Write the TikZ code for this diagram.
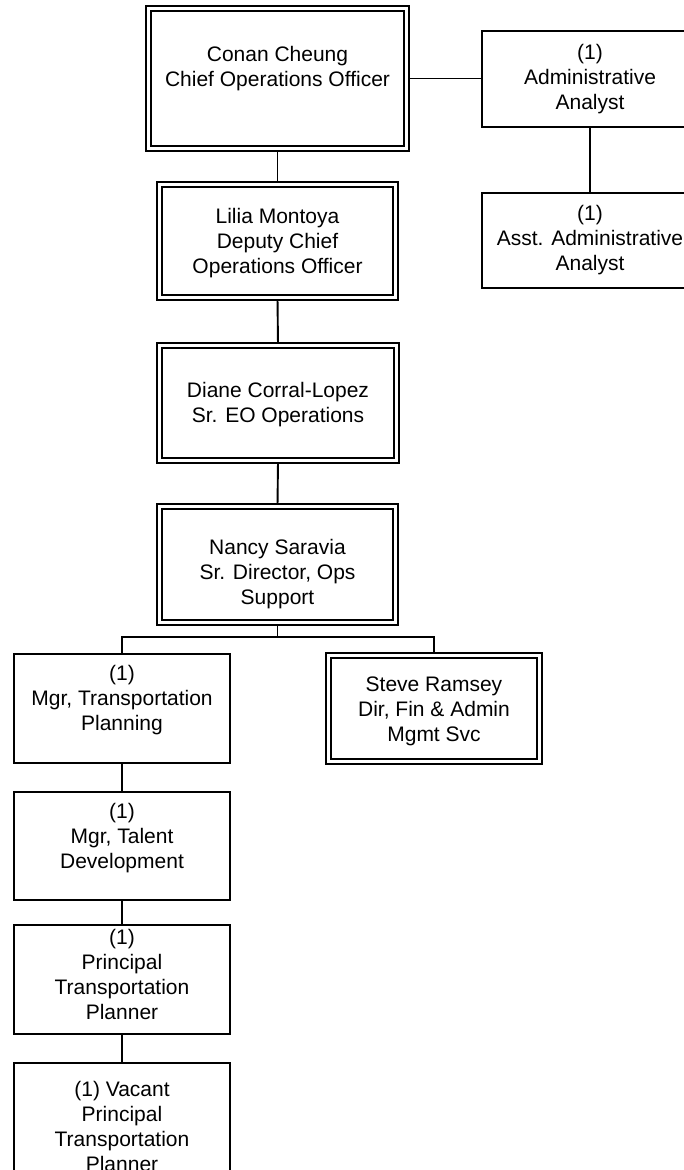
\documentclass[tikz,border=0pt]{standalone}
\usepackage{fontspec}
\setmainfont{Liberation Sans}
\usetikzlibrary{backgrounds}
\tikzset{
  sbox/.style={draw, line width=1.9pt, fill=white, inner sep=0pt, outer sep=0pt, minimum width=216pt},
  dbox/.style={draw, line width=1.9pt, double=white, double distance=2.8pt, fill=white, inner sep=0pt, outer sep=0pt},
  txt/.style={font=\fontsize{21}{25}\selectfont, align=center, inner sep=0pt, text=black},
  conn/.style={line width=1.9pt, black}
}
\begin{document}
\begin{tikzpicture}[x=1pt,y=-1pt]
\useasboundingbox (0,0) rectangle (684,1170);
\clip (0,0) rectangle (684,1170);
% boxes
\node[dbox, minimum width=258.3pt, minimum height=140.3pt] (conan) at (277.5,78.5) {};
\node[sbox, minimum height=96pt] (admin) at (590,79) {};
\node[sbox, minimum height=95pt] (asst) at (590,240.5) {};
\node[dbox, minimum width=236.3pt, minimum height=113.3pt] (lilia) at (277.5,241) {};
\node[dbox, minimum width=237.3pt, minimum height=115.3pt] (diane) at (278,403) {};
\node[dbox, minimum width=236.3pt, minimum height=116.3pt] (nancy) at (277.5,564.5) {};
\node[sbox, minimum height=109pt] (mgr) at (122,708.5) {};
\node[dbox, minimum width=211.3pt, minimum height=106.3pt] (steve) at (434,708.5) {};
\node[sbox, minimum height=108pt] (talent) at (122,846) {};
\node[sbox, minimum height=109pt] (principal) at (122,979.5) {};
\node[sbox, minimum height=123pt] (vacant) at (122,1124.5) {};
% texts
\node[txt] at ([yshift=10pt]conan.center) {Conan Cheung\\Chief Operations Officer};
\node[txt] at (admin.center) {(1)\\Administrative\\Analyst};
\node[txt] at (asst.center) {(1)\\Asst. Administrative\\Analyst};
\node[txt] at ([yshift=-2pt]lilia.center) {Lilia Montoya\\Deputy Chief\\Operations Officer};
\node[txt] at ([yshift=-1.5pt]diane.center) {Diane Corral-Lopez\\Sr. EO Operations};
\node[txt] at ([yshift=-10pt]nancy.center) {Nancy Saravia\\Sr. Director, Ops\\Support};
\node[txt] at ([yshift=8pt]mgr.center) {(1)\\Mgr, Transportation\\Planning};
\node[txt] at ([yshift=-3pt]steve.center) {Steve Ramsey\\Dir, Fin \& Admin\\Mgmt Svc};
\node[txt] at ([yshift=8pt]talent.center) {(1)\\Mgr, Talent\\Development};
\node[txt] at ([yshift=5pt]principal.center) {(1)\\Principal\\Transportation\\Planner};
\node[txt] at ([yshift=-1.5pt]vacant.center) {(1) Vacant\\Principal\\Transportation\\Planner};
\coordinate (bus) at (277.5,637);
% connectors
\begin{pgfonlayer}{background}
\draw[conn] (conan.east) -- (conan.east -| admin.west);
\draw[conn] (admin.south) -- (asst.north);
\draw[conn] (conan.south) -- (lilia.north);
\draw[conn] (lilia.south) -- (diane.north);
\draw[conn] (diane.south) -- (nancy.north);
\draw[conn] (nancy.south) -- (bus);
\draw[conn] (mgr.north) |- (bus) -| (steve.north);
\draw[conn] (mgr.south) -- (talent.north);
\draw[conn] (talent.south) -- (principal.north);
\draw[conn] (principal.south) -- (vacant.north);
\end{pgfonlayer}
\end{tikzpicture}
\end{document}
